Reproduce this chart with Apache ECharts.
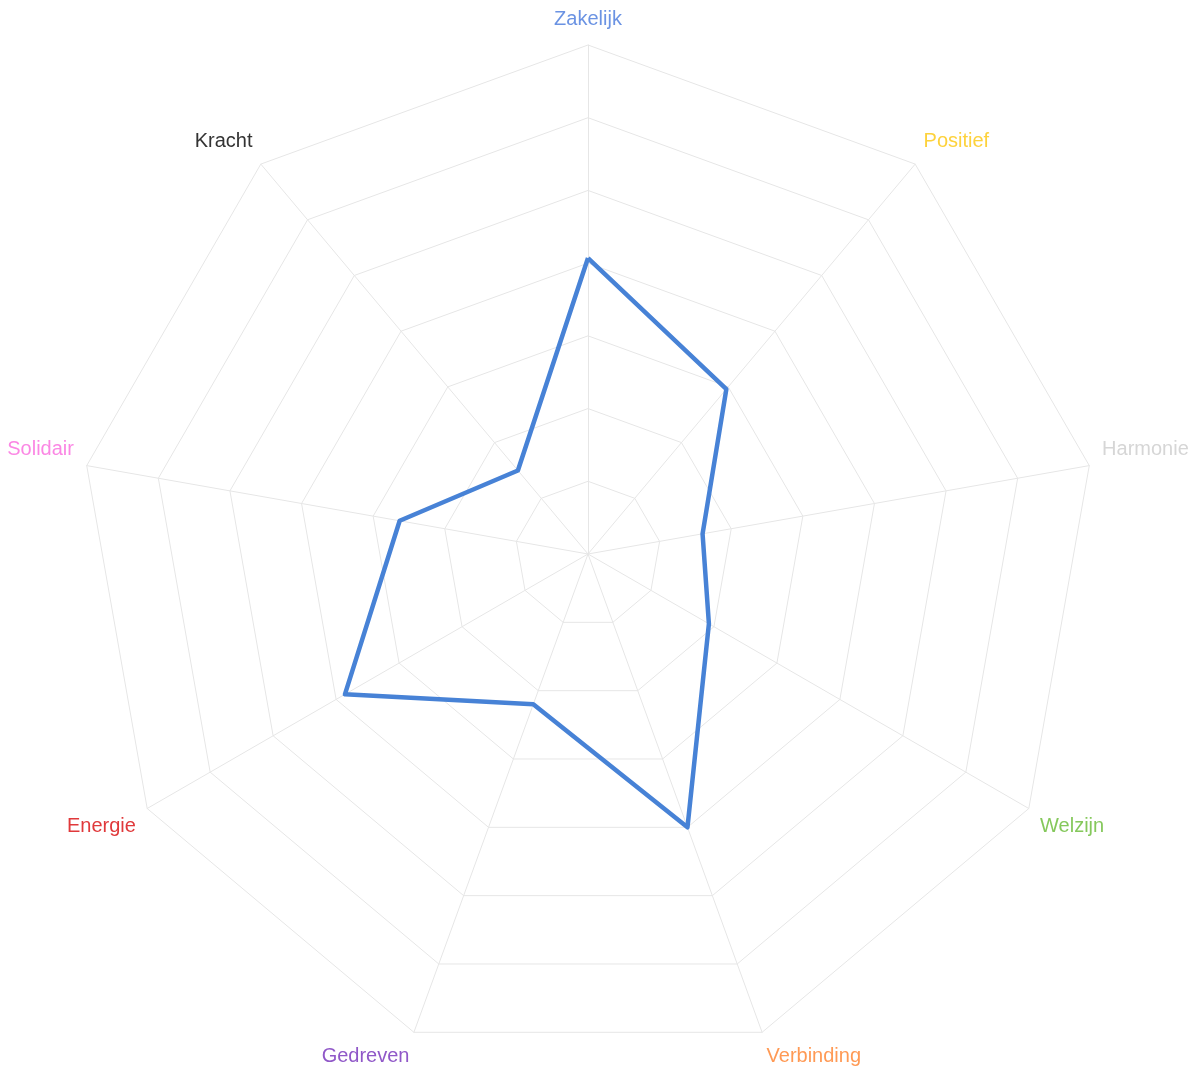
<!DOCTYPE html>
<html>
<head>
<meta charset="utf-8">
<script src="https://cdn.jsdelivr.net/npm/echarts@6/dist/echarts.min.js"></script>
<style>
    html, body { margin: 0; padding: 0; background: #fff; }
    #radar { width: 1196px; height: 1073px; }
</style>
</head>
<body>
<div id="radar"></div>
<script>
    // categories (counter-clockwise from the top)
    var names = ['Zakelijk', 'Kracht', 'Solidair', 'Energie', 'Gedreven', 'Verbinding', 'Welzijn', 'Harmonie', 'Positief'];
    var nameColors = ['#6b93e3', '#333333', '#fb87e4', '#e0393b', '#9058c8', '#ff9a55', '#85c85c', '#d6d6d6', '#fdd23c'];
    var scores = [4.07, 1.5, 2.63, 3.86, 2.2, 4, 1.92, 1.6, 2.96];
    var maxScore = 7;

    // label nudges: [top, right, bottom, left] padding per name
    var labelPad = [
        [0, 0, 3, 0],
        [0, 0, 25, 0],
        [0, 0, 28, 0],
        [22, 0, 0, 0],
        [24, 0, 0, 0],
        [24, 0, 0, 0],
        [22, 0, 0, 0],
        [0, 0, 28, 0],
        [0, 0, 25, 0]
    ];

    var indicator = [];
    var rich = {};
    for (var i = 0; i < names.length; i++) {
        indicator.push({ name: names[i], min: 0, max: maxScore, color: nameColors[i] });
        rich['n' + i] = {
            color: nameColors[i],
            fontFamily: 'Liberation Sans',
            fontSize: 20,
            padding: labelPad[i]
        };
    }

    var myChart = echarts.init(document.getElementById('radar'));
    myChart.setOption({
        animation: false,
        radar: {
            center: [588, 554],
            radius: 509,
            splitNumber: 7,
            indicator: indicator,
            axisName: {
                fontFamily: 'Liberation Sans',
                fontSize: 20,
                formatter: function (name) {
                    return '{n' + names.indexOf(name) + '|' + name + '}';
                },
                rich: rich
            },
            nameGap: 13,
            splitArea: { show: false },
            splitLine: { lineStyle: { color: '#e6e6e6', width: 1 } },
            axisLine: { lineStyle: { color: '#e6e6e6', width: 1 } }
        },
        series: [{
            type: 'radar',
            symbol: 'none',
            lineStyle: { color: '#4782d6', width: 4.5 },
            data: [{ value: scores }]
        }]
    });
</script>
</body>
</html>
